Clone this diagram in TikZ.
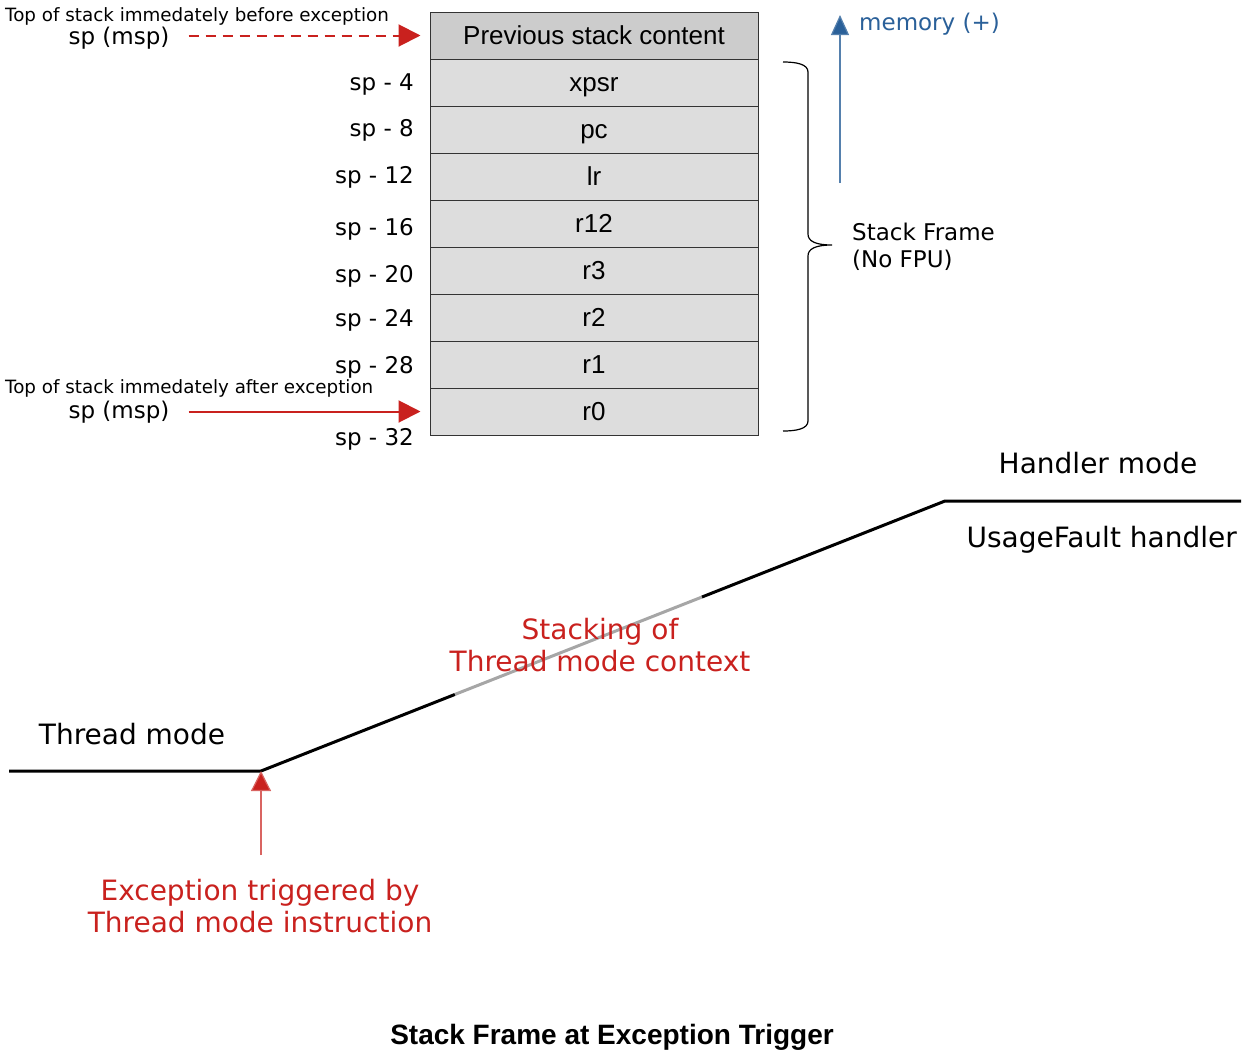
\documentclass[tikz,border=0pt]{standalone}
\usepackage{fontspec}
\setmainfont{DejaVu Sans}
\newfontfamily\arialf{Liberation Sans}
\usetikzlibrary{arrows.meta}
\definecolor{lored}{HTML}{C9211E}
\definecolor{loblue}{HTML}{2A6099}
\definecolor{cellfill}{HTML}{DDDDDD}
\definecolor{topfill}{HTML}{CCCCCC}
\definecolor{midgray}{HTML}{A6A6A6}
\tikzset{
  cell/.style={draw=black!80, line width=1pt, fill=cellfill, minimum width=328pt, minimum height=47pt, inner sep=0pt, text height=20.5pt, text depth=3.5pt, font=\arialf\fontsize{26}{30}\selectfont},
  splbl/.style={anchor=east, inner sep=0pt, font=\fontsize{23}{27}\selectfont},
  smallnote/.style={anchor=west, inner sep=0pt, font=\fontsize{18.3}{21}\selectfont},
  midlbl/.style={inner sep=0pt, font=\fontsize{23}{27}\selectfont},
  biglbl/.style={inner sep=0pt, font=\fontsize{28}{33}\selectfont},
  redlbl/.style={inner sep=0pt, text=lored, align=center, font=\fontsize{28}{32.5}\selectfont},
  redarrow/.style={draw=lored, line width=2pt, -{Triangle[length=22pt,width=22pt]}},
  modeline/.style={line width=3pt, black},
}
\begin{document}
\begin{tikzpicture}[x=1pt,y=-1pt]
\useasboundingbox (0,0) rectangle (1243,1055);
% stack cells
\node[cell, fill=topfill] (c0) at (594,35.5) {Previous stack content};
\node[cell] (c1) at (594,82.5) {xpsr};
\node[cell] (c2) at (594,129.5) {pc};
\node[cell] (c3) at (594,176.5) {lr};
\node[cell] (c4) at (594,223.5) {r12};
\node[cell] (c5) at (594,270.5) {r3};
\node[cell] (c6) at (594,317.5) {r2};
\node[cell] (c7) at (594,364.5) {r1};
\node[cell] (c8) at (594,411.5) {r0};
% sp labels
\node[splbl] (s4) at (414,85) {sp - 4};
\node[splbl] (s8) at (414,130) {sp - 8};
\node[splbl] (s12) at (414,177) {sp - 12};
\node[splbl] (s16) at (414,229) {sp - 16};
\node[splbl] (s20) at (414,276) {sp - 20};
\node[splbl] (s24) at (414,320) {sp - 24};
\node[splbl] (s28) at (414,367) {sp - 28};
\node[splbl] (s32) at (414,439) {sp - 32};
% top of stack notes
\node[smallnote] (nb) at (5,16) {Top of stack immedately before exception};
\node[midlbl] (spb) at (119,38) {sp (msp)};
\node[smallnote] (na) at (5,388) {Top of stack immedately after exception};
\node[midlbl] (spa) at (119,412) {sp (msp)};
\draw[redarrow, dash pattern=on 10pt off 7pt] ([xshift=19pt]spb.east |- c0.west) -- ([xshift=-9pt]c0.west);
\draw[redarrow] ([xshift=19pt]spa.east |- c8.west) -- ([xshift=-9pt]c8.west);
% brace
\coordinate (bt) at (783,62);
\coordinate (bb) at (783,431);
\coordinate (btip) at (832,245);
\draw[line width=1.2pt, black] (bt) .. controls (796,62) and (808,64) .. (808,72)
  -- (808,234) .. controls (808,241) and (815,245) .. (btip)
  .. controls (815,245) and (808,249) .. (808,256)
  -- (808,421) .. controls (808,429) and (796,431) .. (bb);
\node[midlbl, anchor=west, align=left, font=\fontsize{23}{27}\selectfont] (sf) at (852,247) {Stack Frame\\(No FPU)};
% memory arrow
\coordinate (mbot) at (840,183);
\node[midlbl, anchor=west, text=loblue] (mem) at (859,24) {memory (+)};
\draw[draw=loblue!80, line width=1.2pt, -{Triangle[length=20pt,width=18pt,fill=loblue]}] (mbot) -- (mbot |- 0,15);
% modes
\coordinate (t0) at (9,771);
\coordinate (t1) at (261,771);
\coordinate (g0) at (455,694.4);
\coordinate (g1) at (702,597);
\coordinate (h0) at (945,501);
\coordinate (h1) at (1241,501);
\draw[modeline] (t0) -- (t1) -- (g0);
\draw[modeline, midgray] (g0) -- (g1);
\draw[modeline] (g1) -- (h0) -- (h1);
\node[biglbl] (hm) at (1098,463) {Handler mode};
\node[biglbl, anchor=east] (uf) at (1237,540) {UsageFault handler};
\node[biglbl] (tm) at (132,734) {Thread mode};
\node[redlbl] (stk) at (600,645) {Stacking of\\Thread mode context};
% exception arrow
\node[redlbl] (exc) at (260,906) {Exception triggered by\\Thread mode instruction};
\coordinate (ebot) at (261,855);
\draw[draw=lored!70, line width=1.2pt, -{Triangle[length=20pt,width=20pt, fill=lored]}] (ebot) -- (t1);
% title
\node[inner sep=0pt, font=\arialf\bfseries\fontsize{28}{32}\selectfont] (title) at (612,1037) {Stack Frame at Exception Trigger};
\end{tikzpicture}
\end{document}
